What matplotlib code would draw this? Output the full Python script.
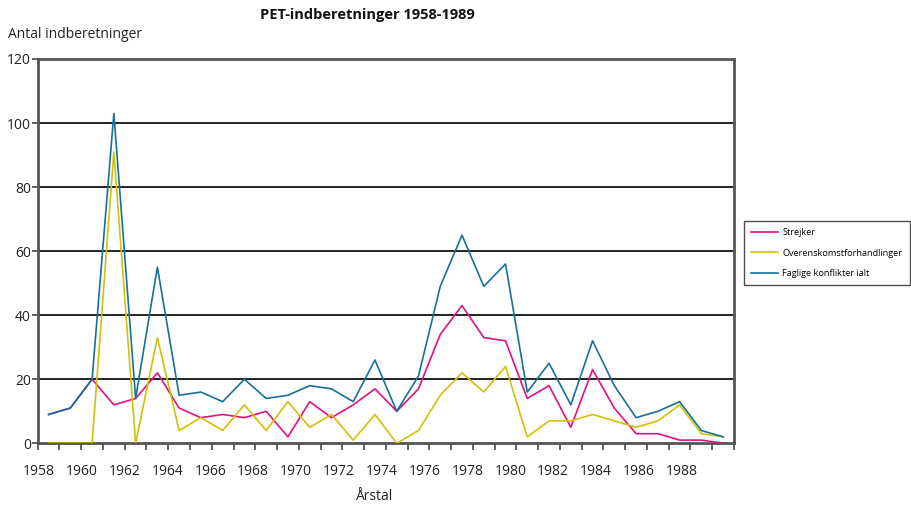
import matplotlib.pyplot as plt
from matplotlib.lines import Line2D
import numpy as np

# Data (one value per year 1958-1989)
years = list(range(1958, 1990))
strejker = [9, 11, 20, 12, 14, 22, 11, 8, 9, 8, 10, 2, 13, 8, 12, 17,
            10, 17, 34, 43, 33, 32, 14, 18, 5, 23, 11, 3, 3, 1, 1, 0]
overenskomst = [0, 0, 0, 91, 0, 33, 4, 8, 4, 12, 4, 13, 5, 9, 1, 9,
                0, 4, 15, 22, 16, 24, 2, 7, 7, 9, 7, 5, 7, 12, 3, 2]
faglige = [9, 11, 20, 103, 14, 55, 15, 16, 13, 20, 14, 15, 18, 17, 13, 26,
           10, 21, 49, 65, 49, 56, 16, 25, 12, 32, 18, 8, 10, 13, 4, 2]
label_years = list(range(1958, 1990, 2))
series_names = ['Strejker', 'Overenskomstforhandlinger', 'Faglige konflikter ialt']

COLORS = ['#e5107f', '#d2c10a', '#17709a']
AXIS_COLOR = '#555555'

plt.rcParams['font.family'] = ['Open Sans', 'DejaVu Sans']
plt.rcParams['font.size'] = 10

fig = plt.figure(figsize=(9.12, 5.05), dpi=100)
W, H = 912, 505
left, right, top, bottom = 37.7, 734.0, 59.0, 443.3
ax = fig.add_axes([left / W, 1 - bottom / H, (right - left) / W, (bottom - top) / H])

x = np.array(years) + 0.5
for vals, color in zip([strejker, overenskomst, faglige], COLORS):
    ax.plot(x, vals, color=color, lw=1.2, zorder=3)

ax.set_xlim(1958, 1990)
ax.set_ylim(0, 120)

# gridlines
ax.set_yticks(range(0, 121, 20))
for yv in range(20, 120, 20):
    ax.axhline(yv, color='#222222', lw=1.4, zorder=1)

for s in ax.spines.values():
    s.set_color(AXIS_COLOR)
    s.set_linewidth(2)

# year boundaries as minor ticks; labels drift slightly like the original
ax.set_xticks(range(1958, 1991), minor=True)
ax.set_xticks([1958 + (y - 1958) * 0.985 + 0.05 for y in label_years])
ax.set_xticklabels([str(y) for y in label_years])
ax.tick_params(axis='x', which='major', length=0, pad=15, labelsize=10, labelcolor='#222222')
ax.tick_params(axis='x', which='minor', length=5, width=1.3, color=AXIS_COLOR, direction='out')
ax.tick_params(axis='y', length=4, width=1.3, color=AXIS_COLOR, pad=1, labelsize=10, labelcolor='#222222')

fig.text(367 / W, 1 - 15 / H, 'PET-indberetninger 1958-1989', ha='center', va='center',
         fontsize=10.5, fontweight='bold', color='#111111')
fig.text(8 / W, 1 - 34 / H, 'Antal indberetninger', ha='left', va='center', fontsize=10,
         color='#222222')
fig.text(375 / W, 1 - 497 / H, 'Årstal', ha='center', va='center', fontsize=10, color='#222222')

handles = [Line2D([0], [0], color=c, lw=1.2) for c in COLORS]
leg = fig.legend(handles, series_names, loc='center left', bbox_to_anchor=(744 / W, 1 - 253 / H),
                 fontsize=6.6, frameon=True, fancybox=False, handlelength=2.9,
                 borderpad=0.8, labelspacing=1.25, handletextpad=0.5, borderaxespad=0)
leg.get_frame().set_edgecolor('#222222')
leg.get_frame().set_linewidth(1.0)

fig.savefig('out.png', dpi=100)
